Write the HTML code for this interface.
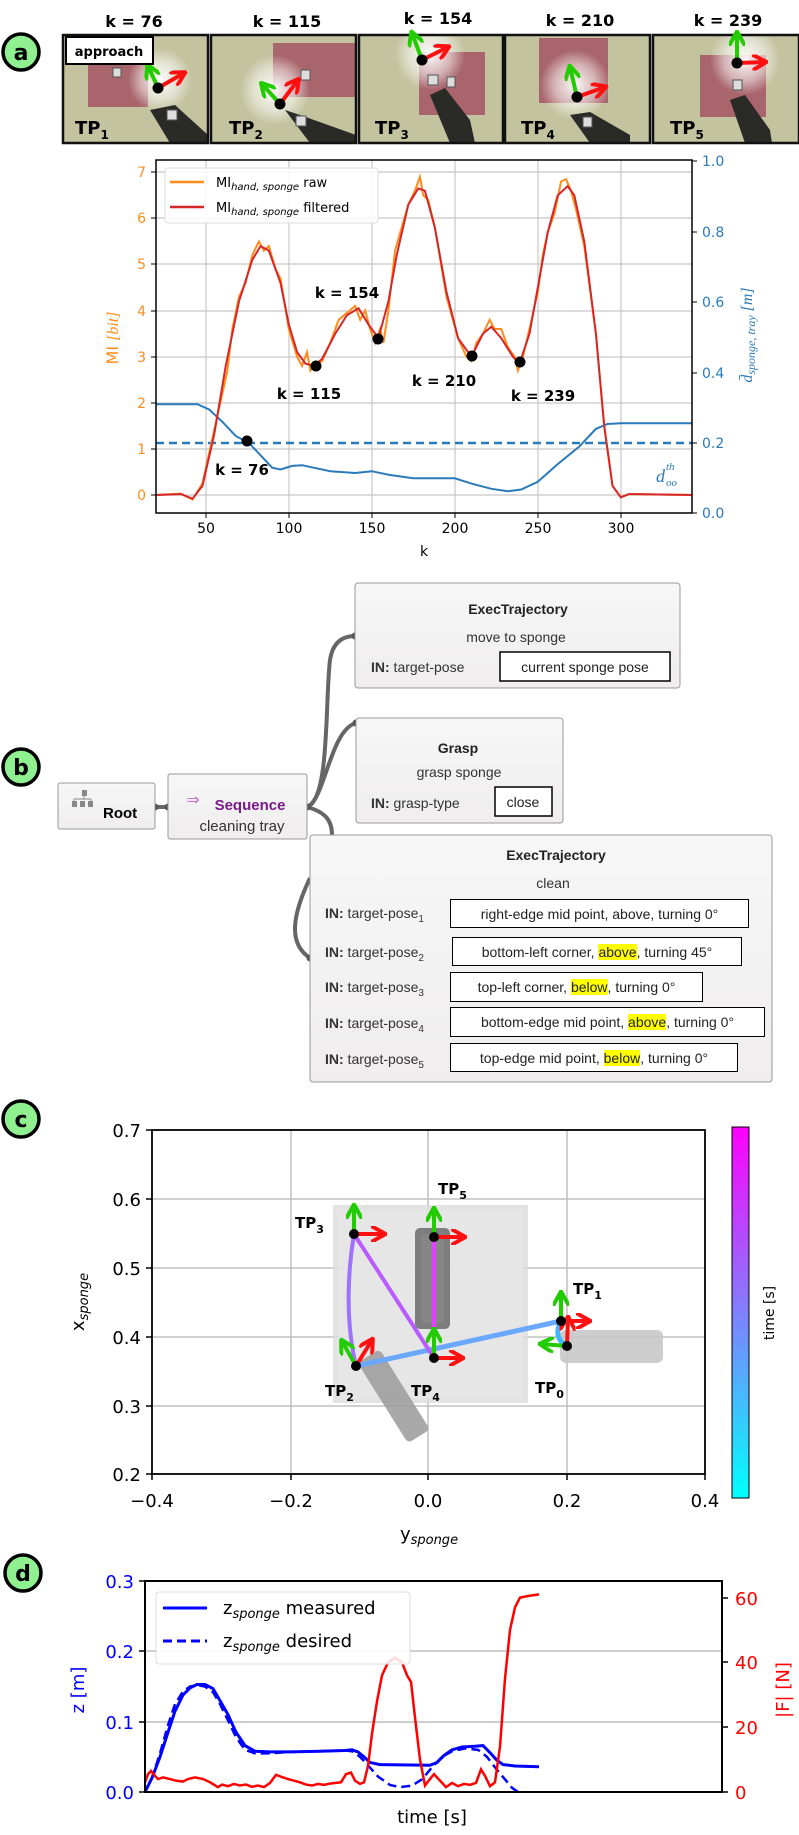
<!DOCTYPE html>
<html><head><meta charset="utf-8">
<style>
html,body{margin:0;padding:0;background:#fff;}
body{position:relative;width:799px;height:1835px;}
svg{display:block;font-family:"DejaVu Sans","Liberation Sans",sans-serif;}
.b{font-weight:bold;}
.vb{position:absolute;box-sizing:border-box;border:1.5px solid #000;background:#fff;font-family:"Liberation Sans",sans-serif;font-size:14px;color:#222;text-align:center;white-space:nowrap;display:flex;align-items:center;justify-content:center;}
.hl{background:#ffff00;}
</style></head>
<body>
<svg width="799" height="1835" viewBox="0 0 799 1835" xmlns="http://www.w3.org/2000/svg">
<defs>
<radialGradient id="glow"><stop offset="0" stop-color="#fff" stop-opacity="0.95"/><stop offset="0.6" stop-color="#fff" stop-opacity="0.5"/><stop offset="1" stop-color="#fff" stop-opacity="0"/></radialGradient>
<linearGradient id="cbar" x1="0" y1="0" x2="0" y2="1"><stop offset="0" stop-color="#ff00ff"/><stop offset="0.5" stop-color="#8080ff"/><stop offset="1" stop-color="#00ffff"/></linearGradient>
<linearGradient id="nodeg" x1="0" y1="0" x2="0" y2="1"><stop offset="0" stop-color="#f7f7f7"/><stop offset="1" stop-color="#efeded"/></linearGradient>
<marker id="ag" viewBox="0 0 10 10" refX="8" refY="5" markerWidth="4" markerHeight="4" orient="auto"><path d="M0,0 L9,5 L0,10" fill="none" stroke="#22cc00" stroke-width="2.5"/></marker>
<marker id="ar" viewBox="0 0 10 10" refX="8" refY="5" markerWidth="4" markerHeight="4" orient="auto"><path d="M0,0 L9,5 L0,10" fill="none" stroke="#ff1010" stroke-width="2.5"/></marker>
</defs>

<!-- ================= PANEL A ================= -->
<circle cx="21" cy="52" r="18" fill="#8ef08e" stroke="#000" stroke-width="3.5"/>
<text x="21" y="60" font-size="22" class="b" text-anchor="middle">a</text>

<g font-size="16" class="b" text-anchor="middle">
<text x="134" y="27">k = 76</text>
<text x="287" y="27">k = 115</text>
<text x="438" y="24">k = 154</text>
<text x="580" y="26">k = 210</text>
<text x="728" y="26">k = 239</text>
</g>

<g>
<rect x="63" y="35" width="145" height="108" fill="#c4c3a0"/>
<rect x="88" y="65" width="60" height="42" fill="#a8656b"/>
<circle cx="160" cy="80" r="32" fill="url(#glow)"/>
<path d="M150,110 L175,105 L208,135 L208,143 L170,143 Z" fill="#2a2a26"/>
<rect x="167" y="110" width="10" height="10" fill="#ddd" stroke="#555"/>
<rect x="113" y="68" width="8" height="9" fill="#ddd" stroke="#555"/>
<rect x="63" y="35" width="145" height="108" fill="none" stroke="#111" stroke-width="2.5"/>

<rect x="211" y="35" width="145" height="108" fill="#c4c3a0"/>
<rect x="273" y="43" width="83" height="54" fill="#a8656b"/>
<circle cx="275" cy="90" r="35" fill="url(#glow)"/>
<path d="M285,110 L300,115 L356,135 L356,143 L310,143 Z" fill="#2a2a26"/>
<rect x="296" y="116" width="10" height="10" fill="#ddd" stroke="#555"/>
<rect x="301" y="70" width="9" height="10" fill="#ddd" stroke="#555"/>
<rect x="211" y="35" width="145" height="108" fill="none" stroke="#111" stroke-width="2.5"/>

<rect x="359" y="35" width="144" height="108" fill="#c4c3a0"/>
<rect x="419" y="52" width="66" height="63" fill="#a8656b"/>
<circle cx="430" cy="55" r="35" fill="url(#glow)"/>
<path d="M430,95 L445,88 L470,120 L475,143 L450,143 Z" fill="#2a2a26"/>
<rect x="428" y="75" width="10" height="10" fill="#ddd" stroke="#555"/>
<rect x="447" y="77" width="8" height="10" fill="#ddd" stroke="#555"/>
<rect x="359" y="35" width="144" height="108" fill="none" stroke="#111" stroke-width="2.5"/>

<rect x="505" y="35" width="145" height="108" fill="#c4c3a0"/>
<rect x="539" y="38" width="69" height="65" fill="#a8656b"/>
<circle cx="575" cy="85" r="35" fill="url(#glow)"/>
<path d="M570,115 L590,112 L630,135 L630,143 L590,143 Z" fill="#2a2a26"/>
<rect x="583" y="117" width="9" height="10" fill="#ddd" stroke="#555"/>
<rect x="505" y="35" width="145" height="108" fill="none" stroke="#111" stroke-width="2.5"/>

<rect x="653" y="35" width="146" height="108" fill="#c4c3a0"/>
<rect x="700" y="55" width="66" height="62" fill="#a8656b"/>
<circle cx="745" cy="60" r="35" fill="url(#glow)"/>
<path d="M730,100 L745,95 L770,130 L772,143 L745,143 Z" fill="#2a2a26"/>
<rect x="733" y="80" width="9" height="10" fill="#ddd" stroke="#555"/>
<rect x="653" y="35" width="146" height="108" fill="none" stroke="#111" stroke-width="2.5"/>
</g>
<g stroke-width="4" fill="none">
<line x1="158" y1="88" x2="148" y2="66" stroke="#22cc00" marker-end="url(#ag)"/>
<line x1="158" y1="88" x2="184" y2="73" stroke="#ff1010" marker-end="url(#ar)"/>
<line x1="280" y1="104" x2="262" y2="84" stroke="#22cc00" marker-end="url(#ag)"/>
<line x1="280" y1="104" x2="298" y2="80" stroke="#ff1010" marker-end="url(#ar)"/>
<line x1="422" y1="60" x2="412" y2="33" stroke="#22cc00" marker-end="url(#ag)"/>
<line x1="422" y1="60" x2="448" y2="47" stroke="#ff1010" marker-end="url(#ar)"/>
<line x1="577" y1="97" x2="570" y2="67" stroke="#22cc00" marker-end="url(#ag)"/>
<line x1="577" y1="97" x2="605" y2="87" stroke="#ff1010" marker-end="url(#ar)"/>
<line x1="737" y1="63" x2="737" y2="33" stroke="#22cc00" marker-end="url(#ag)"/>
<line x1="737" y1="63" x2="765" y2="62" stroke="#ff1010" marker-end="url(#ar)"/>
</g>
<g fill="#000"><circle cx="158" cy="88" r="5.5"/><circle cx="280" cy="104" r="5.5"/><circle cx="422" cy="60" r="5.5"/><circle cx="577" cy="97" r="5.5"/><circle cx="737" cy="63" r="5.5"/></g>
<rect x="66" y="37" width="87" height="27" fill="#fff" stroke="#000" stroke-width="2"/>
<text x="109" y="56" font-size="13" class="b" text-anchor="middle">approach</text>
<g font-size="18" class="b">
<text x="75" y="134">TP<tspan font-size="12" dy="5">1</tspan></text>
<text x="229" y="134">TP<tspan font-size="12" dy="5">2</tspan></text>
<text x="375" y="134">TP<tspan font-size="12" dy="5">3</tspan></text>
<text x="521" y="134">TP<tspan font-size="12" dy="5">4</tspan></text>
<text x="670" y="134">TP<tspan font-size="12" dy="5">5</tspan></text>
</g>

<!-- plot a -->
<g stroke="#c8c8c8" stroke-width="1.2">
<line x1="206" y1="160" x2="206" y2="513"/><line x1="289" y1="160" x2="289" y2="513"/><line x1="372" y1="160" x2="372" y2="513"/><line x1="455" y1="160" x2="455" y2="513"/><line x1="538" y1="160" x2="538" y2="513"/><line x1="621" y1="160" x2="621" y2="513"/>
<line x1="156" y1="172" x2="692" y2="172"/><line x1="156" y1="218" x2="692" y2="218"/><line x1="156" y1="264" x2="692" y2="264"/><line x1="156" y1="311" x2="692" y2="311"/><line x1="156" y1="357" x2="692" y2="357"/><line x1="156" y1="403" x2="692" y2="403"/><line x1="156" y1="449" x2="692" y2="449"/><line x1="156" y1="495" x2="692" y2="495"/>
</g>
<g transform="translate(122.8,513.5) scale(1.66,-352.5)">
<polyline fill="none" stroke="#2a7ab9" stroke-width="2" vector-effect="non-scaling-stroke" points="20,0.31 45,0.31 52,0.295 60,0.26 68,0.22 76,0.2 84,0.16 90,0.13 95,0.125 102,0.135 108,0.137 115,0.13 125,0.12 140,0.115 150,0.12 160,0.11 175,0.1 190,0.1 200,0.1 210,0.085 222,0.07 232,0.063 240,0.068 250,0.09 262,0.14 275,0.19 285,0.24 292,0.254 300,0.256 343,0.256"/>
<line x1="20" y1="0.2" x2="343" y2="0.2" stroke="#2a7ab9" stroke-width="2.5" stroke-dasharray="8,5" vector-effect="non-scaling-stroke"/>
</g>
<g transform="translate(122.8,495) scale(1.66,-46.1)" fill="none">
<polyline stroke="#ff8c1a" stroke-width="2" vector-effect="non-scaling-stroke" points="20,0 35,0.03 42,-0.1 48,0.25 55,1.4 60,2.2 63,2.7 66,3.6 70,4.3 74,4.6 78,5.2 82,5.5 85,5.3 88,5.4 92,4.9 95,4.7 100,3.6 105,3.0 108,2.8 111,3.1 113,2.7 116,2.85 120,2.9 125,3.3 130,3.8 135,3.95 140,4.1 143,3.8 146,4.0 149,3.6 152,3.3 155,3.6 157,3.3 160,4.0 164,5.3 168,5.8 172,6.3 176,6.6 179,6.9 181,6.5 184,6.4 188,5.8 195,4.3 202,3.4 207,3.0 210,2.9 213,3.3 217,3.5 221,3.8 224,3.6 228,3.6 232,3.2 236,3.0 238,2.7 241,3.0 245,3.6 250,4.4 253,5.2 256,5.7 260,6.1 264,6.8 267,6.85 270,6.6 273,6.2 278,5.4 285,3.5 290,1.5 295,0.2 300,-0.05 305,0.02 343,0"/>
<polyline stroke="#d62728" stroke-width="2" vector-effect="non-scaling-stroke" points="20,0 35,0.02 42,-0.08 48,0.2 55,1.3 62,2.8 70,4.2 78,5.1 83,5.4 88,5.3 95,4.6 100,3.7 105,3.1 110,2.85 115,2.8 120,2.95 128,3.5 135,3.9 142,4.05 148,3.7 154,3.4 160,4.2 165,5.2 172,6.3 178,6.65 182,6.6 188,5.8 195,4.4 202,3.4 210,3.0 217,3.5 222,3.65 228,3.4 235,3.0 239,2.85 245,3.5 250,4.5 256,5.7 262,6.5 268,6.7 272,6.5 278,5.5 285,3.5 290,1.5 295,0.2 300,-0.05 305,0.02 343,0"/>
</g>
<g fill="#000"><circle cx="247" cy="441" r="5.5"/><circle cx="316" cy="366" r="5.5"/><circle cx="378" cy="339" r="5.5"/><circle cx="472" cy="356" r="5.5"/><circle cx="520" cy="362" r="5.5"/></g>
<g font-size="15" class="b" text-anchor="middle">
<text x="347" y="298">k = 154</text>
<text x="309" y="399">k = 115</text>
<text x="444" y="386">k = 210</text>
<text x="543" y="401">k = 239</text>
<text x="242" y="475">k = 76</text>
</g>
<rect x="156" y="160" width="536" height="353" fill="none" stroke="#000" stroke-width="1.5"/>
<rect x="165" y="168" width="213" height="55" rx="3" fill="#fff" fill-opacity="0.85" stroke="#ddd"/>
<line x1="170" y1="182" x2="204" y2="182" stroke="#ff8c1a" stroke-width="2.5"/>
<line x1="170" y1="207" x2="204" y2="207" stroke="#d62728" stroke-width="2.5"/>
<text x="216" y="187" font-size="13">MI<tspan font-size="10" font-style="italic" dy="3">hand, sponge</tspan><tspan dy="-3"> raw</tspan></text>
<text x="216" y="212" font-size="13">MI<tspan font-size="10" font-style="italic" dy="3">hand, sponge</tspan><tspan dy="-3"> filtered</tspan></text>
<g font-size="14" fill="#ff8c1a" text-anchor="end">
<text x="146" y="177">7</text><text x="146" y="223">6</text><text x="146" y="269">5</text><text x="146" y="316">4</text><text x="146" y="362">3</text><text x="146" y="408">2</text><text x="146" y="454">1</text><text x="146" y="500">0</text>
</g>
<g stroke="#000"><line x1="151" y1="172" x2="156" y2="172"/><line x1="151" y1="218" x2="156" y2="218"/><line x1="151" y1="264" x2="156" y2="264"/><line x1="151" y1="311" x2="156" y2="311"/><line x1="151" y1="357" x2="156" y2="357"/><line x1="151" y1="403" x2="156" y2="403"/><line x1="151" y1="449" x2="156" y2="449"/><line x1="151" y1="495" x2="156" y2="495"/>
<line x1="692" y1="161" x2="697" y2="161"/><line x1="692" y1="232" x2="697" y2="232"/><line x1="692" y1="302" x2="697" y2="302"/><line x1="692" y1="373" x2="697" y2="373"/><line x1="692" y1="443" x2="697" y2="443"/><line x1="692" y1="513" x2="697" y2="513"/>
<line x1="206" y1="513" x2="206" y2="518"/><line x1="289" y1="513" x2="289" y2="518"/><line x1="372" y1="513" x2="372" y2="518"/><line x1="455" y1="513" x2="455" y2="518"/><line x1="538" y1="513" x2="538" y2="518"/><line x1="621" y1="513" x2="621" y2="518"/></g>
<g font-size="14" fill="#2a7ab9">
<text x="702" y="166">1.0</text><text x="702" y="237">0.8</text><text x="702" y="307">0.6</text><text x="702" y="378">0.4</text><text x="702" y="448">0.2</text><text x="702" y="518">0.0</text>
</g>
<g font-size="14" text-anchor="middle">
<text x="206" y="533">50</text><text x="289" y="533">100</text><text x="372" y="533">150</text><text x="455" y="533">200</text><text x="538" y="533">250</text><text x="621" y="533">300</text>
<text x="424" y="556">k</text>
</g>
<text transform="translate(118,338) rotate(-90)" font-size="16" fill="#ff8c1a" text-anchor="middle">MI <tspan font-family="Liberation Serif" font-style="italic">[bit]</tspan></text>
<text transform="translate(752,335) rotate(-90)" font-size="16" fill="#2a7ab9" text-anchor="middle" font-family="Liberation Serif" font-style="italic">d̄<tspan font-size="12" dy="3">sponge, tray</tspan><tspan dy="-3"> [m]</tspan></text>
<text x="656" y="482" font-size="18" fill="#2a7ab9" font-family="Liberation Serif" font-style="italic">d</text>
<text x="666" y="470" font-size="11" fill="#2a7ab9" font-family="Liberation Serif" font-style="italic">th</text>
<text x="666" y="486" font-size="11" fill="#2a7ab9" font-family="Liberation Serif" font-style="italic">oo</text>

<!-- ================= PANEL B ================= -->
<circle cx="21" cy="767" r="18" fill="#8ef08e" stroke="#000" stroke-width="3.5"/>
<text x="21" y="775" font-size="22" class="b" text-anchor="middle">b</text>

<g fill="none" stroke="#666" stroke-width="4">
<line x1="155" y1="807" x2="168" y2="807"/>
<path d="M307,807 C330,800 325,700 330,660 C333,640 345,636 355,636"/>
<path d="M307,807 C325,800 330,730 356,723"/>
<path d="M307,807 C325,812 332,820 332,835"/>
<path d="M310,878 C290,920 290,945 310,958"/>
</g>
<g fill="#555"><circle cx="155" cy="807" r="3.5"/><circle cx="168" cy="807" r="3.5"/><circle cx="307" cy="807" r="3.5"/><circle cx="355" cy="636" r="3.5"/><circle cx="356" cy="723" r="3.5"/><circle cx="310" cy="958" r="3.5"/></g>

<rect x="58" y="783" width="97" height="46" rx="2" fill="url(#nodeg)" stroke="#999"/>
<g fill="#888"><rect x="82" y="790" width="5" height="6"/><rect x="72" y="801" width="5" height="6"/><rect x="80" y="801" width="5" height="6"/><rect x="88" y="801" width="5" height="6"/></g>
<path d="M84,796 V799 M74,799 H91 M74,799 V801 M91,799 V801" stroke="#888" fill="none"/>
<text x="103" y="818" font-size="15" class="b" font-family="Liberation Sans">Root</text>

<rect x="168" y="774" width="139" height="65" rx="2" fill="url(#nodeg)" stroke="#999"/>
<text x="193" y="805" font-size="16" fill="#c070c8" text-anchor="middle">⇒</text>
<text x="250" y="810" font-size="15" class="b" fill="#7a1a8a" text-anchor="middle" font-family="Liberation Sans">Sequence</text>
<text x="242" y="831" font-size="15" fill="#333" text-anchor="middle" font-family="Liberation Sans">cleaning tray</text>

<g font-family="Liberation Sans" fill="#333" font-size="14">
<rect x="355" y="583" width="325" height="105" rx="3" fill="url(#nodeg)" stroke="#999"/>
<text x="518" y="614" class="b" font-size="14" text-anchor="middle" fill="#222">ExecTrajectory</text>
<text x="516" y="642" text-anchor="middle">move to sponge</text>
<text x="371" y="672"><tspan class="b">IN:</tspan>  target-pose</text>
<rect x="500" y="652" width="170" height="29" fill="#fff" stroke="#000" stroke-width="1.5"/>
<text x="585" y="672" text-anchor="middle" fill="#222">current sponge pose</text>

<rect x="356" y="718" width="207" height="105" rx="3" fill="url(#nodeg)" stroke="#999"/>
<text x="458" y="753" class="b" text-anchor="middle" fill="#222">Grasp</text>
<text x="459" y="777" text-anchor="middle">grasp sponge</text>
<text x="371" y="808"><tspan class="b">IN:</tspan>  grasp-type</text>
<rect x="495" y="787" width="57" height="29" fill="#fff" stroke="#000" stroke-width="1.5"/>
<text x="523" y="807" text-anchor="middle" fill="#222">close</text>

<rect x="310" y="835" width="462" height="247" rx="3" fill="url(#nodeg)" stroke="#999"/>
<text x="556" y="860" class="b" text-anchor="middle" fill="#222">ExecTrajectory</text>
<text x="553" y="888" text-anchor="middle">clean</text>

<text x="325" y="918"><tspan class="b">IN:</tspan> target-pose<tspan font-size="10" dy="4">1</tspan></text>
<text x="325" y="957"><tspan class="b">IN:</tspan> target-pose<tspan font-size="10" dy="4">2</tspan></text>
<text x="325" y="992"><tspan class="b">IN:</tspan> target-pose<tspan font-size="10" dy="4">3</tspan></text>
<text x="325" y="1028"><tspan class="b">IN:</tspan> target-pose<tspan font-size="10" dy="4">4</tspan></text>
<text x="325" y="1064"><tspan class="b">IN:</tspan> target-pose<tspan font-size="10" dy="4">5</tspan></text>
</g>

<!-- ================= PANEL C ================= -->
<circle cx="21" cy="1119" r="18" fill="#8ef08e" stroke="#000" stroke-width="3.5"/>
<text x="21" y="1127" font-size="22" class="b" text-anchor="middle">c</text>

<g stroke="#c0c0c0" stroke-width="1.5">
<line x1="291" y1="1130" x2="291" y2="1474"/><line x1="428" y1="1130" x2="428" y2="1474"/><line x1="567" y1="1130" x2="567" y2="1474"/>
<line x1="152" y1="1199" x2="705" y2="1199"/><line x1="152" y1="1268" x2="705" y2="1268"/><line x1="152" y1="1337" x2="705" y2="1337"/><line x1="152" y1="1406" x2="705" y2="1406"/>
</g>
<rect x="333" y="1205" width="195" height="198" fill="#dcdcdc" opacity="0.8"/>
<rect x="338" y="1210" width="185" height="188" fill="#e6e6e6" opacity="0.8"/>
<rect x="415" y="1228" width="35" height="101" rx="5" fill="#6a6a6a" opacity="0.85"/>
<rect x="421" y="1234" width="23" height="89" rx="4" fill="#888" opacity="0.8"/>
<rect x="560" y="1330" width="103" height="33" rx="6" fill="#c8c8c8" opacity="0.9"/>
<rect x="338" y="1378" width="95" height="26" rx="5" fill="#9a9a9a" opacity="0.85" transform="rotate(58 385 1401)"/>
<g fill="none" stroke-linecap="round">
<path d="M567,1346 C556,1340 556,1330 561,1321" stroke="#40b8ff" stroke-width="5"/>
<path d="M561,1321 L356,1366" stroke="#6aa8ff" stroke-width="5"/>
<path d="M356,1366 C345,1320 348,1270 354,1234" stroke="#a070ff" stroke-width="4"/>
<path d="M354,1234 L434,1358" stroke="#b85cff" stroke-width="4"/>
<path d="M434,1358 L434,1237" stroke="#e040ff" stroke-width="4"/>
</g>
<g stroke-width="4" fill="none">
<line x1="354" y1="1234" x2="354" y2="1206" stroke="#22cc00" marker-end="url(#ag)"/>
<line x1="354" y1="1234" x2="384" y2="1234" stroke="#ff1010" marker-end="url(#ar)"/>
<line x1="434" y1="1237" x2="434" y2="1209" stroke="#22cc00" marker-end="url(#ag)"/>
<line x1="434" y1="1237" x2="464" y2="1237" stroke="#ff1010" marker-end="url(#ar)"/>
<line x1="561" y1="1321" x2="561" y2="1293" stroke="#22cc00" marker-end="url(#ag)"/>
<line x1="561" y1="1321" x2="589" y2="1321" stroke="#ff1010" marker-end="url(#ar)"/>
<line x1="567" y1="1346" x2="541" y2="1344" stroke="#22cc00" marker-end="url(#ag)"/>
<line x1="567" y1="1346" x2="568" y2="1318" stroke="#ff1010" marker-end="url(#ar)"/>
<line x1="434" y1="1358" x2="434" y2="1330" stroke="#22cc00" marker-end="url(#ag)"/>
<line x1="434" y1="1358" x2="462" y2="1358" stroke="#ff1010" marker-end="url(#ar)"/>
<line x1="356" y1="1366" x2="342" y2="1341" stroke="#22cc00" marker-end="url(#ag)"/>
<line x1="356" y1="1366" x2="372" y2="1340" stroke="#ff1010" marker-end="url(#ar)"/>
</g>
<g fill="#000"><circle cx="354" cy="1234" r="5"/><circle cx="434" cy="1237" r="5"/><circle cx="561" cy="1321" r="5"/><circle cx="567" cy="1346" r="5"/><circle cx="434" cy="1358" r="5"/><circle cx="356" cy="1366" r="5"/></g>
<g font-size="15" class="b">
<text x="295" y="1228">TP<tspan font-size="11" dy="5">3</tspan></text>
<text x="438" y="1194">TP<tspan font-size="11" dy="5">5</tspan></text>
<text x="573" y="1294">TP<tspan font-size="11" dy="5">1</tspan></text>
<text x="535" y="1393">TP<tspan font-size="11" dy="5">0</tspan></text>
<text x="325" y="1396">TP<tspan font-size="11" dy="5">2</tspan></text>
<text x="411" y="1396">TP<tspan font-size="11" dy="5">4</tspan></text>
</g>
<rect x="152" y="1130" width="553" height="344" fill="none" stroke="#000" stroke-width="1.8"/>
<g stroke="#000" stroke-width="1.5">
<line x1="146" y1="1130" x2="152" y2="1130"/><line x1="146" y1="1199" x2="152" y2="1199"/><line x1="146" y1="1268" x2="152" y2="1268"/><line x1="146" y1="1337" x2="152" y2="1337"/><line x1="146" y1="1406" x2="152" y2="1406"/><line x1="146" y1="1474" x2="152" y2="1474"/>
<line x1="152" y1="1474" x2="152" y2="1480"/><line x1="291" y1="1474" x2="291" y2="1480"/><line x1="428" y1="1474" x2="428" y2="1480"/><line x1="567" y1="1474" x2="567" y2="1480"/><line x1="705" y1="1474" x2="705" y2="1480"/>
</g>
<g font-size="18" text-anchor="end">
<text x="141" y="1137">0.7</text><text x="141" y="1206">0.6</text><text x="141" y="1275">0.5</text><text x="141" y="1344">0.4</text><text x="141" y="1413">0.3</text><text x="141" y="1481">0.2</text>
</g>
<g font-size="18" text-anchor="middle">
<text x="152" y="1507">−0.4</text><text x="291" y="1507">−0.2</text><text x="428" y="1507">0.0</text><text x="567" y="1507">0.2</text><text x="705" y="1507">0.4</text>
</g>
<text x="429" y="1540" font-size="18" text-anchor="middle">y<tspan font-size="13" font-style="italic" dy="4">sponge</tspan></text>
<text transform="translate(84,1302) rotate(-90)" font-size="18" text-anchor="middle">x<tspan font-size="13" font-style="italic" dy="4">sponge</tspan></text>
<rect x="732" y="1127" width="17" height="371" fill="url(#cbar)" stroke="#000" stroke-width="1"/>
<text transform="translate(774,1313) rotate(-90)" font-size="14" text-anchor="middle">time [s]</text>

<!-- ================= PANEL D ================= -->
<circle cx="23" cy="1573" r="18" fill="#8ef08e" stroke="#000" stroke-width="3.5"/>
<text x="23" y="1581" font-size="22" class="b" text-anchor="middle">d</text>

<g stroke="#bdbdbd" stroke-width="1.5"><line x1="145" y1="1651" x2="722" y2="1651"/><line x1="145" y1="1722" x2="722" y2="1722"/></g>
<g transform="translate(0,1792) scale(1,-703)" fill="none">
<polyline stroke="#0000ff" stroke-width="3" vector-effect="non-scaling-stroke" points="145,0 152,0.02 160,0.05 168,0.085 175,0.115 183,0.138 190,0.148 197,0.153 205,0.153 213,0.147 220,0.13 228,0.11 236,0.085 245,0.066 255,0.058 270,0.057 290,0.057 320,0.058 345,0.059 352,0.06 358,0.057 364,0.05 370,0.042 380,0.039 430,0.038 437,0.042 444,0.052 452,0.06 462,0.064 475,0.065 483,0.066 490,0.056 497,0.045 503,0.039 515,0.037 539,0.036"/>
<polyline stroke="#0000ff" stroke-width="2.5" stroke-dasharray="9,5" vector-effect="non-scaling-stroke" points="145,0 152,0.02 160,0.055 168,0.095 175,0.125 183,0.143 190,0.15 197,0.152 205,0.15 213,0.142 220,0.125 228,0.102 236,0.078 245,0.06 255,0.055 270,0.055 290,0.057 320,0.058 345,0.059 352,0.058 360,0.05 368,0.038 378,0.022 390,0.01 400,0.007 412,0.009 422,0.018 432,0.035 442,0.05 452,0.058 465,0.062 478,0.06 487,0.05 495,0.035 505,0.018 512,0.006 518,0"/>
</g>
<g transform="translate(0,1792) scale(1,-3.24)" fill="none">
<polyline stroke="#ff0000" stroke-width="2.5" vector-effect="non-scaling-stroke" points="145,3 148,5.5 151,6.5 155,5 158,4 163,4.5 170,4 176,3.5 183,3.2 188,4 195,4.5 203,4 210,3 218,1.5 222,2.3 228,1.8 234,2.5 240,2.0 246,2.3 252,1.6 258,2.0 264,1.5 270,2.8 276,5.3 282,4.6 288,4.0 294,3.5 300,3.0 306,2.3 312,2.0 318,2.5 324,2.2 330,2.6 336,2.8 341,3.0 346,5.5 351,6 355,3.5 360,2.5 364,3 368,8 372,18 377,28 382,36 388,40 395,41.5 402,40 407,36 411,34 415,23 420,10 425,2 430,4 434,5.5 440,3.5 446,1.5 452,2.8 458,1.8 464,2.5 470,2.2 476,2.8 481,7 485,5 490,1.8 495,3 500,14 505,35 510,50 515,57 520,60 528,60.5 539,61"/>
</g>
<rect x="145" y="1581" width="577" height="211" fill="none" stroke="#000" stroke-width="2"/>
<rect x="156" y="1592" width="254" height="72" rx="3" fill="#fff" fill-opacity="0.85" stroke="#ddd"/>
<line x1="163" y1="1608" x2="207" y2="1608" stroke="#0000ff" stroke-width="3"/>
<line x1="163" y1="1641" x2="207" y2="1641" stroke="#0000ff" stroke-width="3" stroke-dasharray="9,5"/>
<text x="223" y="1614" font-size="18">z<tspan font-size="13" font-style="italic" dy="4">sponge</tspan><tspan dy="-4"> measured</tspan></text>
<text x="223" y="1647" font-size="18">z<tspan font-size="13" font-style="italic" dy="4">sponge</tspan><tspan dy="-4"> desired</tspan></text>
<g stroke="#000" stroke-width="1.5">
<line x1="139" y1="1581" x2="145" y2="1581"/><line x1="139" y1="1651" x2="145" y2="1651"/><line x1="139" y1="1722" x2="145" y2="1722"/><line x1="139" y1="1792" x2="145" y2="1792"/>
<line x1="722" y1="1598" x2="728" y2="1598"/><line x1="722" y1="1662" x2="728" y2="1662"/><line x1="722" y1="1727" x2="728" y2="1727"/><line x1="722" y1="1792" x2="728" y2="1792"/>
</g>
<g font-size="18" fill="#0000ff" text-anchor="end">
<text x="134" y="1588">0.3</text><text x="134" y="1658">0.2</text><text x="134" y="1729">0.1</text><text x="134" y="1799">0.0</text>
</g>
<g font-size="18" fill="#ff0000">
<text x="735" y="1605">60</text><text x="735" y="1669">40</text><text x="735" y="1734">20</text><text x="735" y="1799">0</text>
</g>
<text x="432" y="1823" font-size="18" text-anchor="middle">time [s]</text>
<text transform="translate(84,1690) rotate(-90)" font-size="18" fill="#0000ff" text-anchor="middle">z [m]</text>
<text transform="translate(789,1690) rotate(-90)" font-size="18" fill="#ff0000" text-anchor="middle">|F| [N]</text>
</svg>

<div class="vb" style="left:450px;top:899px;width:299px;height:29px;">right-edge mid point, above, turning 0°</div>
<div class="vb" style="left:452px;top:937px;width:290px;height:29px;">bottom-left corner,&nbsp;<span class="hl">above</span>, turning 45°</div>
<div class="vb" style="left:450px;top:972px;width:253px;height:30px;">top-left corner,&nbsp;<span class="hl">below</span>, turning 0°</div>
<div class="vb" style="left:450px;top:1007px;width:315px;height:30px;">bottom-edge mid point,&nbsp;<span class="hl">above</span>, turning 0°</div>
<div class="vb" style="left:450px;top:1043px;width:288px;height:29px;">top-edge mid point,&nbsp;<span class="hl">below</span>, turning 0°</div>
</body></html>
